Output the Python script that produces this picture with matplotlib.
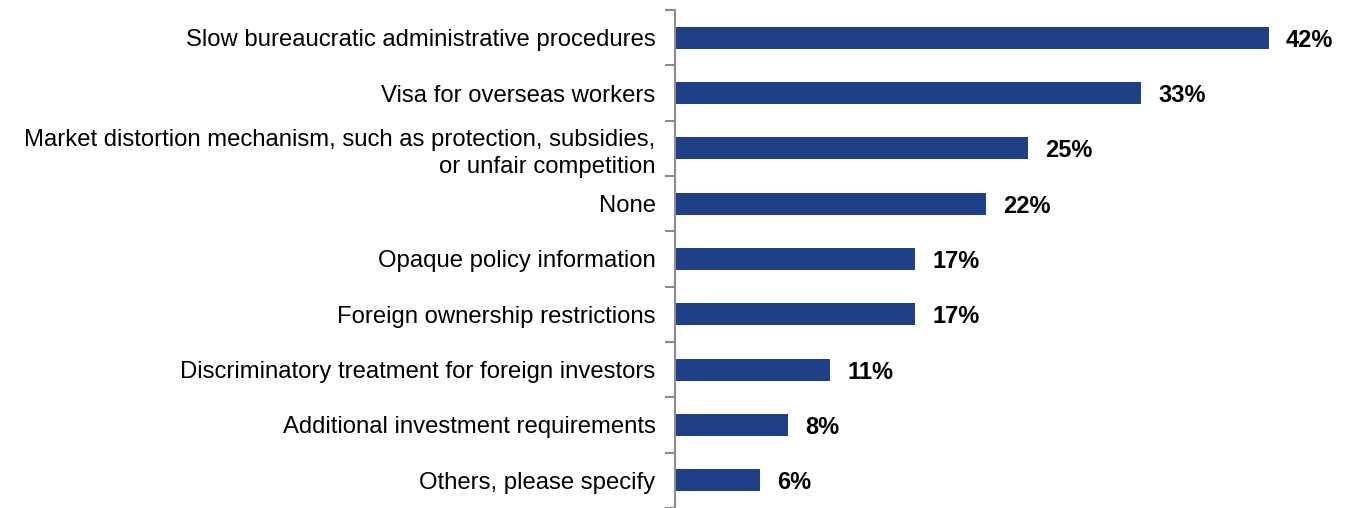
import numpy as np
import matplotlib.pyplot as plt

plt.rcParams['font.family'] = ['Liberation Sans', 'DejaVu Sans']

categories = [
    "Slow bureaucratic administrative procedures",
    "Visa for overseas workers",
    "Market distortion mechanism, such as protection, subsidies,\nor unfair competition",
    "None",
    "Opaque policy information",
    "Foreign ownership restrictions",
    "Discriminatory treatment for foreign investors",
    "Additional investment requirements",
    "Others, please specify",
]
values = [42, 33, 25, 22, 17, 17, 11, 8, 6]

bar_color = "#1F3F87"
axis_color = "#8C8C8C"

fig = plt.figure(figsize=(13.58, 5.08), dpi=100)
ax = fig.add_axes([675 / 1358, 0.0, 636 / 1358, 498 / 508])

y = np.arange(len(categories))
ax.barh(y, values, height=0.4, color=bar_color)

for yi, v in zip(y, values):
    ax.text(v + 1.2, yi, f"{v}%", va="center_baseline", ha="left",
            fontsize=17, fontweight="bold", color="black")

ax.set_xlim(0, 45)
ax.set_ylim(len(categories) - 0.5, -0.5)

ax.set_yticks(y)
ax.set_yticklabels(categories, fontsize=17.2, linespacing=1.32)
ax.tick_params(axis="y", which="major", length=0, pad=14)
ax.set_yticks(np.arange(-0.5, len(categories), 1), minor=True)
ax.tick_params(axis="y", which="minor", length=7, width=1.5, color=axis_color)

ax.set_xticks([])
for side in ["top", "right", "bottom"]:
    ax.spines[side].set_visible(False)
ax.spines["left"].set_color(axis_color)
ax.spines["left"].set_linewidth(1.5)

fig.savefig("out.png", dpi=100)
